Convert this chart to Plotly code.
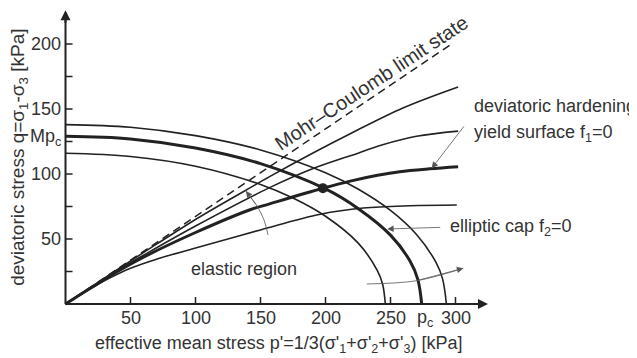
import plotly.graph_objects as go

# ---- data ----
mc_p = [0, 297]
mc_q = [0, 200]

cap_inner_p = [0, 50, 100, 150, 175, 200, 225, 240, 244, 246]
cap_inner_q = [116, 113.5, 106, 92, 81.5, 67.5, 47, 25.5, 15, 0]
cap_mid_p = [0, 50, 100, 150, 200, 225, 250, 265, 271, 274]
cap_mid_q = [129, 127, 120, 108, 88.5, 73.5, 53, 33, 19, 0]
cap_outer_p = [0, 50, 100, 150, 200, 225, 250, 270, 285, 290, 293]
cap_outer_q = [138, 136, 129.5, 118.5, 101, 88.5, 72, 53.5, 32, 19.5, 0]

hard1_p = [0, 20, 40, 70, 100, 130, 157, 190, 219, 260, 302]
hard1_q = [0, 13.3, 26.6, 46, 65, 82.5, 98, 116, 131, 151, 167]
hard2_p = [0, 20, 40, 60, 100, 157, 190, 219, 244, 270, 302]
hard2_q = [0, 13, 25.8, 37.5, 60, 89.5, 104, 114, 122.5, 129, 133]
hard3_p = [0, 20, 40, 60, 100, 142, 157, 198, 219, 240, 257, 280, 302]
hard3_q = [0, 12.7, 25, 36, 55, 72.5, 77, 89, 94.5, 99, 101.8, 104, 105.6]
hard4_p = [0, 20, 35, 50, 70, 100, 150, 196, 229, 265, 301]
hard4_q = [0, 12.2, 20.5, 27.5, 34.5, 43, 57, 69, 73.8, 75.6, 76.2]

point_p = [198]
point_q = [89]

x_ticks = [50, 100, 150, 200, 250, 300]
x_ticktext = ["50", "100", "150", "200", "250", "300"]
y_ticks = [25, 50, 75, 100, 125, 150, 175, 200]
y_ticktext = ["", "50", "", "100", "", "150", "", "200"]

# decorative arcs (annotation arrows)
arc1_p = [155.8, 152.7, 147.3, 138.8]
arc1_q = [53.1, 64.6, 75.4, 86.9]
arc2_p = [231.7, 270, 306]
arc2_q = [15.4, 17.9, 27.5]

FONT = "Liberation Sans, Arial, sans-serif"
TXT = "#333333"
LN = "#222222"
THIN = "#555555"

W, H = 637, 358
PAGE_OFFSET = 8      # default body margin of the html page
SCALE = 1.3          # px per kPa on both axes
ORIG_X, ORIG_Y = 65.5 - PAGE_OFFSET, 304 - PAGE_OFFSET
x_range = [-ORIG_X / SCALE, (W - ORIG_X) / SCALE]
y_range = [-(H - ORIG_Y) / SCALE, ORIG_Y / SCALE]

fig = go.Figure()

def curve(p, q, w, dash=None, color=LN, shape="spline"):
    fig.add_trace(go.Scatter(x=p, y=q, mode="lines",
                             line=dict(color=color, width=w, dash=dash, shape=shape, smoothing=1.0),
                             hoverinfo="skip", showlegend=False, cliponaxis=False))

# axes lines and ticks
curve([0, 318], [0, 0], 2, shape="linear")
curve([0, 0], [0, 219], 2, shape="linear")
tx, ty = [], []
for v in x_ticks:
    tx += [v, v, None]
    ty += [0, 5.4, None]
curve(tx, ty, 1.5, shape="linear")
tx, ty = [], []
for v in y_ticks:
    tx += [0, 5.4, None]
    ty += [v, v, None]
curve(tx, ty, 1.5, shape="linear")

curve(mc_p, mc_q, 1.5, dash="8px,5px", shape="linear")
curve(cap_inner_p, cap_inner_q, 1.6)
curve(cap_mid_p, cap_mid_q, 3)
curve(cap_outer_p, cap_outer_q, 1.6)
curve(hard1_p, hard1_q, 1.6)
curve(hard2_p, hard2_q, 1.6)
curve(hard3_p, hard3_q, 3)
curve(hard4_p, hard4_q, 1.6)
curve(arc1_p, arc1_q, 0.8, color=THIN)
curve(arc2_p, arc2_q, 0.8, color=THIN)

fig.add_trace(go.Scatter(x=point_p, y=point_q, mode="markers",
                         marker=dict(color=LN, size=10), hoverinfo="skip", showlegend=False))

ann = []
# axis arrowheads
ann.append(dict(x=0, y=226, ax=0, ay=14, xref="x", yref="y",
                text="", showarrow=True, arrowhead=2, arrowsize=1, arrowwidth=2, arrowcolor=LN, standoff=0))
ann.append(dict(x=325, y=0, ax=-14, ay=0, xref="x", yref="y",
                text="", showarrow=True, arrowhead=2, arrowsize=1, arrowwidth=2, arrowcolor=LN, standoff=0))
# small arrows
def small_arrow(x, y, ax, ay):
    ann.append(dict(x=x, y=y, ax=ax, ay=ay, xref="x", yref="y", axref="x", ayref="y",
                    text="", showarrow=True, arrowhead=2, arrowsize=1.6, arrowwidth=0.8,
                    arrowcolor=THIN, standoff=0))
small_arrow(281.7, 104.4, 307.3, 137.7)
small_arrow(247.5, 57.7, 289.4, 59)
small_arrow(arc1_p[-1], arc1_q[-1], arc1_p[-2], arc1_q[-2])
small_arrow(arc2_p[-1], arc2_q[-1], arc2_p[-2], arc2_q[-2])

f18 = dict(family=FONT, size=18, color=TXT)
for v, t in zip(x_ticks, x_ticktext):
    ann.append(dict(x=v, y=-10.8, xref="x", yref="y", text=t, showarrow=False, font=f18))
for v, t in zip(y_ticks, y_ticktext):
    if t:
        ann.append(dict(x=-2, y=v, xref="x", yref="y", text=t, xanchor="right",
                        showarrow=False, font=f18))

ann.append(dict(x=235, y=170, xref="x", yref="y", text="Mohr–Coulomb limit state",
                textangle=-33.5, showarrow=False, font=dict(family=FONT, size=20, color=TXT)))
ann.append(dict(x=313, y=152.3, xref="x", yref="y", text="deviatoric hardening",
                xanchor="left", showarrow=False, font=f18))
ann.append(dict(x=313, y=131.5, xref="x", yref="y", text="yield surface f<sub>1</sub>=0",
                xanchor="left", showarrow=False, font=f18))
ann.append(dict(x=294.6, y=58.5, xref="x", yref="y", text="elliptic cap f<sub>2</sub>=0",
                xanchor="left", showarrow=False, font=f18))
ann.append(dict(x=137, y=27, xref="x", yref="y", text="elastic region",
                showarrow=False, font=f18))
ann.append(dict(x=-2, y=128, xref="x", yref="y", text="Mp<sub>c</sub>",
                xanchor="right", showarrow=False, font=f18))
ann.append(dict(x=276.5, y=-11.5, xref="x", yref="y", text="p<sub>c</sub>",
                showarrow=False, font=f18))
ann.append(dict(x=164, y=-30.8, xref="x", yref="y",
                text="effective mean stress p'=1/3(σ'<sub>1</sub>+σ'<sub>2</sub>+σ'<sub>3</sub>) [kPa]",
                showarrow=False, font=f18))
ann.append(dict(x=-35.5, y=112.7, xref="x", yref="y",
                text="deviatoric stress q=σ<sub>1</sub>-σ<sub>3</sub> [kPa]", textangle=-90,
                showarrow=False, font=dict(family=FONT, size=19, color=TXT)))

fig.update_layout(
    width=W, height=H,
    margin=dict(l=0, r=0, t=0, b=0),
    plot_bgcolor="white", paper_bgcolor="white",
    annotations=ann,
    xaxis=dict(range=x_range, visible=False, fixedrange=True),
    yaxis=dict(range=y_range, visible=False, fixedrange=True),
)

fig.write_html("out.html")
